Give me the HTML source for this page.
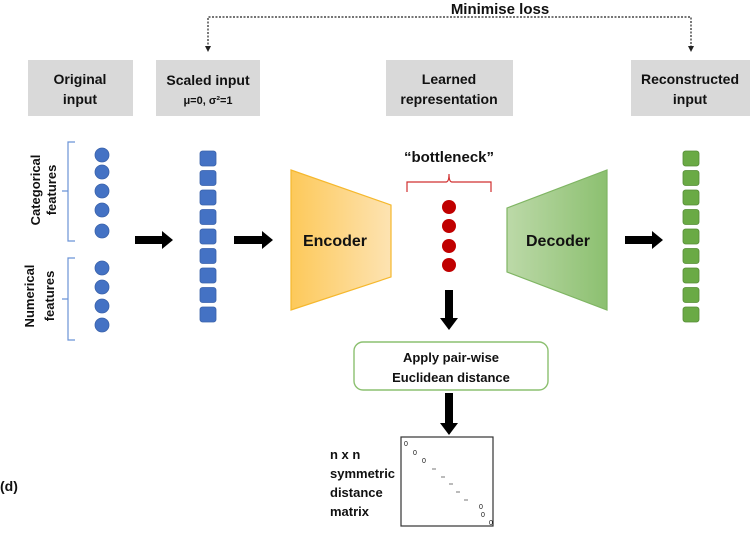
<!DOCTYPE html>
<html><head><meta charset="utf-8"><style>
body{margin:0;background:#fff}
svg text{font-family:"Liberation Sans",sans-serif;font-weight:bold;fill:#111}
</style></head><body>
<svg width="750" height="529" viewBox="0 0 750 529" xmlns="http://www.w3.org/2000/svg">
<defs>
<linearGradient id="ge" x1="0" x2="1"><stop offset="0" stop-color="#fdc95a"/><stop offset="1" stop-color="#fde3b2"/></linearGradient>
<linearGradient id="gd" x1="0" x2="1"><stop offset="0" stop-color="#bcd9a8"/><stop offset="1" stop-color="#8cc070"/></linearGradient>
</defs>
<!-- dotted loss line -->
<text x="500" y="14" font-size="15" text-anchor="middle">Minimise loss</text>
<polyline points="208,48 208,17 691,17 691,48" fill="none" stroke="#222" stroke-width="1.2" stroke-dasharray="2,1.5"/>
<polygon points="205,46 211,46 208,52" fill="#222"/>
<polygon points="688,46 694,46 691,52" fill="#222"/>
<!-- gray boxes -->
<rect x="28" y="60" width="105" height="56" fill="#d9d9d9"/>
<text x="80" y="84" font-size="14" text-anchor="middle">Original</text>
<text x="80" y="104" font-size="14" text-anchor="middle">input</text>
<rect x="156" y="60" width="104" height="56" fill="#d9d9d9"/>
<text x="208" y="85" font-size="14" text-anchor="middle">Scaled input</text>
<text x="208" y="104" font-size="11" text-anchor="middle">μ=0, σ²=1</text>
<rect x="386" y="60" width="127" height="56" fill="#d9d9d9"/>
<text x="449" y="84" font-size="14" text-anchor="middle">Learned</text>
<text x="449" y="104" font-size="14" text-anchor="middle">representation</text>
<rect x="631" y="60" width="119" height="56" fill="#d9d9d9"/>
<text x="690" y="84" font-size="14" text-anchor="middle">Reconstructed</text>
<text x="690" y="104" font-size="14" text-anchor="middle">input</text>
<!-- side labels -->
<text transform="translate(40,190) rotate(-90)" font-size="13" text-anchor="middle">Categorical</text>
<text transform="translate(56,190) rotate(-90)" font-size="13" text-anchor="middle">features</text>
<text transform="translate(34,296) rotate(-90)" font-size="13" text-anchor="middle">Numerical</text>
<text transform="translate(54,296) rotate(-90)" font-size="13" text-anchor="middle">features</text>
<path d="M75,142 H68 V241 H75 M68,191 H62" fill="none" stroke="#6b93d6" stroke-width="1.2"/>
<path d="M75,258 H68 V340 H75 M68,299 H62" fill="none" stroke="#6b93d6" stroke-width="1.2"/>
<g fill="#4472c4" stroke="#3a62aa" stroke-width="0.8">
<circle cx="102" cy="155" r="7"/><circle cx="102" cy="172" r="7"/><circle cx="102" cy="191" r="7"/><circle cx="102" cy="210" r="7"/><circle cx="102" cy="231" r="7"/>
<circle cx="102" cy="268" r="7"/><circle cx="102" cy="287" r="7"/><circle cx="102" cy="306" r="7"/><circle cx="102" cy="325" r="7"/>
</g>
<g fill="#4472c4" stroke="#3a62aa" stroke-width="0.8">
<rect x="200" y="151" width="16" height="15" rx="2.5"/><rect x="200" y="170.5" width="16" height="15" rx="2.5"/><rect x="200" y="190" width="16" height="15" rx="2.5"/><rect x="200" y="209.5" width="16" height="15" rx="2.5"/><rect x="200" y="229" width="16" height="15" rx="2.5"/><rect x="200" y="248.5" width="16" height="15" rx="2.5"/><rect x="200" y="268" width="16" height="15" rx="2.5"/><rect x="200" y="287.5" width="16" height="15" rx="2.5"/><rect x="200" y="307" width="16" height="15" rx="2.5"/>
</g>
<g fill="#6aaa45" stroke="#558c36" stroke-width="0.8">
<rect x="683" y="151" width="16" height="15" rx="2.5"/><rect x="683" y="170.5" width="16" height="15" rx="2.5"/><rect x="683" y="190" width="16" height="15" rx="2.5"/><rect x="683" y="209.5" width="16" height="15" rx="2.5"/><rect x="683" y="229" width="16" height="15" rx="2.5"/><rect x="683" y="248.5" width="16" height="15" rx="2.5"/><rect x="683" y="268" width="16" height="15" rx="2.5"/><rect x="683" y="287.5" width="16" height="15" rx="2.5"/><rect x="683" y="307" width="16" height="15" rx="2.5"/>
</g>
<!-- arrows -->
<g fill="#000">
<polygon points="135,236 162,236 162,231 173,240 162,249 162,244 135,244"/>
<polygon points="234,236 262,236 262,231 273,240 262,249 262,244 234,244"/>
<polygon points="625,236 652,236 652,231 663,240 652,249 652,244 625,244"/>
<polygon points="445,290 453,290 453,318 458,318 449,330 440,318 445,318"/>
<polygon points="445,393 453,393 453,423 458,423 449,435 440,423 445,423"/>
</g>
<!-- encoder / decoder -->
<polygon points="291,170 391,205 391,277 291,310" fill="url(#ge)" stroke="#f5b82e" stroke-width="1.2"/>
<text x="335" y="246" font-size="16" text-anchor="middle">Encoder</text>
<polygon points="507,208 607,170 607,310 507,272" fill="url(#gd)" stroke="#7fb563" stroke-width="1.2"/>
<text x="558" y="246" font-size="16" text-anchor="middle">Decoder</text>
<!-- bottleneck -->
<text x="449" y="162" font-size="15" text-anchor="middle">“bottleneck”</text>
<path d="M407,192 V182 H446 Q449,182 449,174 Q449,182 452,182 H491 V192" fill="none" stroke="#d03030" stroke-width="1.2"/>
<g fill="#c00000"><circle cx="449" cy="207" r="7"/><circle cx="449" cy="226" r="7"/><circle cx="449" cy="246" r="7"/><circle cx="449" cy="265" r="7"/></g>
<!-- euclid box -->
<rect x="354" y="342" width="194" height="48" rx="9" fill="#fff" stroke="#8cc070" stroke-width="1.4"/>
<text x="451" y="362" font-size="13" text-anchor="middle">Apply pair-wise</text>
<text x="451" y="382" font-size="13" text-anchor="middle">Euclidean distance</text>
<!-- matrix -->
<rect x="401" y="437" width="92" height="89" fill="#fff" stroke="#333" stroke-width="1.2"/>
<g font-size="7" font-weight="normal">
<text x="404" y="446" style="font-weight:normal">0</text><text x="413" y="455" style="font-weight:normal">0</text><text x="422" y="463" style="font-weight:normal">0</text>
<text x="479" y="509" style="font-weight:normal">0</text><text x="481" y="517" style="font-weight:normal">0</text><text x="489" y="525" style="font-weight:normal">0</text>
</g>
<g stroke="#555" stroke-width="0.8"><line x1="432" y1="469" x2="436" y2="469"/><line x1="441" y1="477" x2="445" y2="477"/><line x1="449" y1="484" x2="453" y2="484"/><line x1="456" y1="492" x2="460" y2="492"/><line x1="464" y1="500" x2="468" y2="500"/></g>
<text x="330" y="459" font-size="13">n x n</text>
<text x="330" y="478" font-size="13">symmetric</text>
<text x="330" y="497" font-size="13">distance</text>
<text x="330" y="516" font-size="13">matrix</text>
<text x="0" y="491" font-size="14">(d)</text>
</svg>
</body></html>
